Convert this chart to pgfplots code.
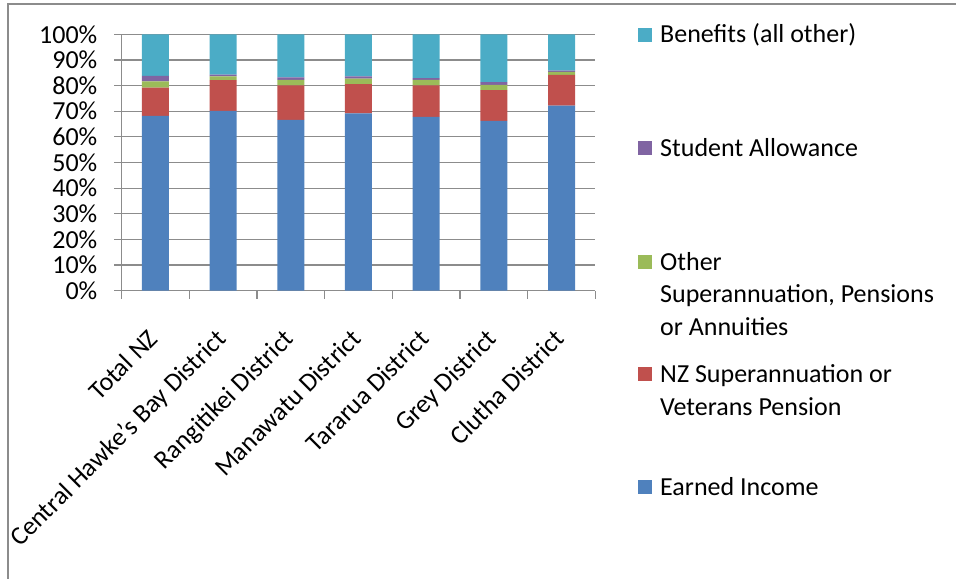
\documentclass[border=0pt]{standalone}
\usepackage{pgfplots}
\pgfplotsset{compat=1.18}
\usepackage{fontspec}
\setmainfont{Carlito}
\definecolor{cEarn}{HTML}{4F81BD}
\definecolor{cNZS}{HTML}{C0504D}
\definecolor{cOther}{HTML}{9BBB59}
\definecolor{cStud}{HTML}{8064A2}
\definecolor{cBen}{HTML}{4BACC6}
\definecolor{gridg}{HTML}{8C8C8C}

\begin{document}
\begin{tikzpicture}[font=\fontsize{26bp}{32.5bp}\selectfont]
\path[use as bounding box] (0bp,0bp) rectangle (956bp,579bp);
% chart area border
\draw[gridg, line width=1.5bp] (8bp,0bp) -- (8bp,575bp) -- (956bp,575bp);

\begin{axis}[
    at={(121.5bp,288.3bp)}, anchor=south west,
    scale only axis, width=474bp, height=256.4bp,
    ybar stacked, bar width=27bp,
    xmin=-0.5, xmax=6.5, ymin=0, ymax=100,
    axis lines*=left,
    axis line style={gridg, line width=1.2bp},
    ymajorgrids, grid style={gridg, line width=1.2bp},
    ytick={0,10,...,100},
    yticklabels={0\%,10\%,20\%,30\%,40\%,50\%,60\%,70\%,80\%,90\%,100\%},
    xtick={0,...,6},
    xticklabels={Total NZ,Central Hawke's Bay District,Rangitikei District,Manawatu District,Tararua District,Grey District,Clutha District},
    minor xtick={-0.5,0.5,...,6.5},
    tick align=outside,
    major tick length=7bp, minor tick length=8bp,
    x tick style={draw=none},
    minor x tick style={draw=gridg, line width=1.2bp},
    y tick style={gridg, line width=1.2bp},
    ytick pos=left,
    yticklabel style={inner sep=0pt, xshift=-17bp},
    % shifts act in the rotated frame
    xticklabel style={rotate=45, anchor=north east, inner sep=0pt, xshift=-27bp, yshift=-15bp},
    every axis plot/.append style={draw=none},
]
\addplot[fill=cEarn]  coordinates {(0,68.2) (1,70.1) (2,66.6) (3,69.2) (4,67.8) (5,66.2) (6,72.2)};
\addplot[fill=cNZS]   coordinates {(0,11.0) (1,12.0) (2,13.5) (3,11.4) (4,12.3) (5,12.0) (6,12.0)};
\addplot[fill=cOther] coordinates {(0,2.4) (1,1.5) (2,2.1) (3,2.1) (4,2.1) (5,2.1) (6,1.1)};
\addplot[fill=cStud]  coordinates {(0,2.2) (1,0.7) (2,1.0) (3,0.9) (4,0.7) (5,1.0) (6,0.5)};
\addplot[fill=cBen]   coordinates {(0,16.2) (1,15.7) (2,16.8) (3,16.4) (4,17.1) (5,18.7) (6,14.2)};
\end{axis}

% legend
\fill[cBen]   (638bp,536.5bp) rectangle (652bp,550.5bp);
\node[anchor=west, inner sep=0pt] at (660bp,544bp) {Benefits (all other)};
\fill[cStud]  (638bp,424bp) rectangle (652bp,438bp);
\node[anchor=west, inner sep=0pt] at (660bp,431bp) {Student Allowance};
\fill[cOther] (638bp,310bp) rectangle (652bp,324bp);
\node[anchor=west, inner sep=0pt, align=left] at (660bp,285bp) {Other\\Superannuation, Pensions\\or Annuities};
\fill[cNZS]   (638bp,198bp) rectangle (652bp,212bp);
\node[anchor=west, inner sep=0pt, align=left] at (660bp,189bp) {NZ Superannuation or\\Veterans Pension};
\fill[cEarn]  (638bp,85bp) rectangle (652bp,99bp);
\node[anchor=west, inner sep=0pt] at (660bp,92bp) {Earned Income};
\end{tikzpicture}
\end{document}
